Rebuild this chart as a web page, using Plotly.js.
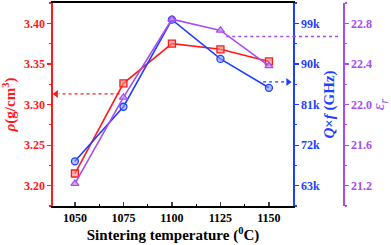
<!DOCTYPE html>
<html>
<head>
<meta charset="utf-8">
<script src="https://cdn.plot.ly/plotly-3.0.1.min.js"></script>
<style>html,body{margin:0;padding:0;background:#fff}#chart{width:391px;height:245px}</style>
</head>
<body>
<div id="chart"></div>
<script>
// ---- data ----
const temps = [1050, 1075, 1100, 1125, 1150];
const density = [3.215, 3.326, 3.375, 3.368, 3.353];
const qf = [68400, 80500, 99800, 91100, 84700];
const epsr = [21.22, 22.07, 22.84, 22.73, 22.38];
const qfTickVals = [63000, 72000, 81000, 90000, 99000];
const qfTickText = ['63k', '72k', '81k', '90k', '99k'];
// arrow guide levels (data units)
const densityArrowY = 3.313, densityArrowX = 1073;
const qfArrowY = 86000, qfArrowX = 1147;
const epsArrowY = 22.67, epsArrowX = 1128;

const RED = '#ff1a1a', BLUE = '#1f3fff', PURPLE = '#a64cf2';
const F = 'Liberation Serif';
const xDomEnd = 240 / 290;
const xRange = [1038.7, 1162.4];
const xEps = xRange[1] + (xRange[1] - xRange[0]) * (1 / xDomEnd - 1); // x value at the purple axis

function tr(y, ax, color, sym, fill) {
  return {
    x: temps, y: y, yaxis: ax, type: 'scatter', mode: 'lines+markers',
    line: {color: color, width: 1.6},
    marker: {symbol: sym, size: 7, color: fill, line: {color: color, width: 1.3}},
    showlegend: false, cliponaxis: false
  };
}
function head(x, y, ax, color, sym) {
  return {x: [x], y: [y], yaxis: ax, type: 'scatter', mode: 'markers', cliponaxis: false,
    marker: {symbol: sym, size: 7, color: color}, showlegend: false, hoverinfo: 'skip'};
}
const data = [
  tr(epsr, 'y3', PURPLE, 'triangle-up', 'rgba(205,160,250,0.75)'),
  tr(qf, 'y2', BLUE, 'circle', 'rgba(130,150,255,0.6)'),
  tr(density, 'y', RED, 'square', 'rgba(255,130,130,0.6)'),
  head(xRange[0] + 1.6, densityArrowY, 'y', RED, 'triangle-left'),
  head(xRange[1] - 2.5, qfArrowY, 'y2', BLUE, 'triangle-right'),
  head(xEps - 2.2, epsArrowY, 'y3', PURPLE, 'triangle-right')
];

const yCommon = {
  showgrid: false, zeroline: false, showline: true, linewidth: 1.6,
  ticks: 'outside', ticklen: 4, tickwidth: 1.2,
  tickfont: {family: F, size: 12, weight: 'bold'},
  automargin: false
};

const layout = {
  width: 391, height: 245,
  margin: {l: 53, r: 48, t: 3, b: 39},
  paper_bgcolor: '#fff', plot_bgcolor: '#fff',
  xaxis: {
    domain: [0, xDomEnd], range: xRange,
    tickvals: temps, ticks: 'inside', ticklen: 4, tickwidth: 1.2,
    minor: {dtick: 12.5, tick0: 1050, ticks: 'inside', ticklen: 2, tickcolor: '#000'},
    showline: true, mirror: true, linecolor: '#000', linewidth: 1.6,
    showgrid: false, zeroline: false,
    tickfont: {family: F, size: 12, weight: 'bold', color: '#000'},
    title: {text: '<b>Sintering temperature (<sup>0</sup>C)</b>', font: {family: F, size: 15, weight: 'bold', color: '#000'}, standoff: 4},
    automargin: false
  },
  yaxis: Object.assign({}, yCommon, {
    range: [3.175, 3.425], dtick: 0.05, tick0: 3.2, tickformat: '.2f',
    linecolor: RED, tickcolor: RED, tickfont: Object.assign({}, yCommon.tickfont, {color: RED}),
    minor: {dtick: 0.025, ticks: 'outside', ticklen: 2, tickcolor: RED},
    title: {text: '<b><i>ρ</i>(g/cm<sup>3</sup>)</b>', font: {family: F, size: 15, weight: 'bold', color: RED}, standoff: 6}
  }),
  yaxis2: Object.assign({}, yCommon, {
    overlaying: 'y', side: 'right', anchor: 'x',
    range: [58500, 103500], tickvals: qfTickVals, ticktext: qfTickText,
    linecolor: BLUE, tickcolor: BLUE, tickfont: Object.assign({}, yCommon.tickfont, {color: BLUE}),
    minor: {tickvals: [58500, 67500, 76500, 85500, 94500, 103500], ticks: 'outside', ticklen: 2, tickcolor: BLUE},
    title: {text: '<b><i>Q</i>×<i>f</i> (GHz)</b>', font: {family: F, size: 15, weight: 'bold', color: BLUE}, standoff: 4}
  }),
  yaxis3: Object.assign({}, yCommon, {
    overlaying: 'y', side: 'right', anchor: 'free', position: 1,
    range: [21.0, 23.0], dtick: 0.4, tick0: 21.2, tickformat: '.1f',
    linecolor: PURPLE, tickcolor: PURPLE, tickfont: Object.assign({}, yCommon.tickfont, {color: PURPLE}),
    minor: {dtick: 0.2, tick0: 21.0, ticks: 'outside', ticklen: 2, tickcolor: PURPLE},
    title: {text: '<i>ε<sub>r</sub></i>', font: {family: F, size: 17, color: PURPLE}, standoff: 8}
  }),
  shapes: [
    {type: 'line', xref: 'x', yref: 'y', x0: densityArrowX, x1: xRange[0] + 3, y0: densityArrowY, y1: densityArrowY,
     line: {color: RED, width: 1.3, dash: 'dot'}},
    {type: 'line', xref: 'x', yref: 'y2', x0: qfArrowX, x1: xRange[1] - 3, y0: qfArrowY, y1: qfArrowY,
     line: {color: BLUE, width: 1.3, dash: 'dot'}},
    {type: 'line', xref: 'x', yref: 'y3', x0: epsArrowX, x1: xRange[1], y0: epsArrowY, y1: epsArrowY,
     line: {color: PURPLE, width: 1.3, dash: 'dot'}},
    {type: 'line', xref: 'paper', yref: 'y3', x0: xDomEnd, x1: 0.985, y0: epsArrowY, y1: epsArrowY,
     line: {color: PURPLE, width: 1.3, dash: 'dot'}}
  ]
};

Plotly.newPlot('chart', data, layout, {staticPlot: true, displayModeBar: false});
</script>
</body>
</html>
